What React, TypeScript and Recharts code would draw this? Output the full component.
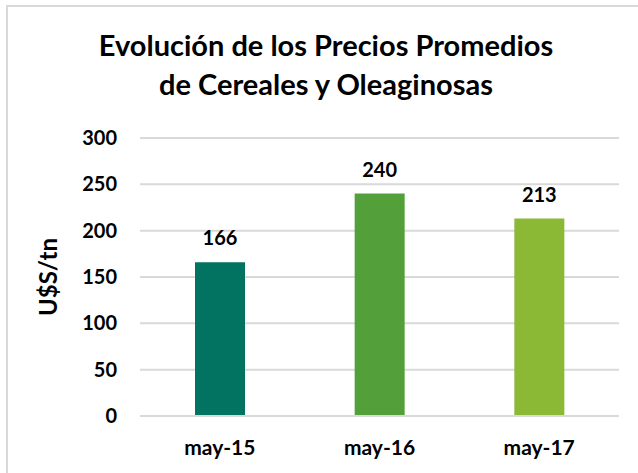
import React from 'react';
import { BarChart, Bar, XAxis, YAxis, CartesianGrid, Cell, LabelList } from 'recharts';

const months = ['may-15', 'may-16', 'may-17'];
const prices = [166, 240, 213];
const barColors = ['#037361', '#53a03b', '#8bb835'];
const yTicks = [0, 50, 100, 150, 200, 250, 300];

const data = months.map((m, i) => ({ month: m, price: prices[i] }));

const font = 'Lato, "Open Sans", sans-serif';

const App: React.FC = () => {
  return (
    <div style={{ position: 'absolute', left: 0, top: 0, width: 638, height: 473, overflow: 'hidden', background: '#fff', fontFamily: font }}>
      <div style={{ position: 'absolute', left: 6, top: 5, width: 640, height: 480, borderLeft: '2px solid #d9d9d9', borderTop: '2px solid #d9d9d9' }} />
      <div
        style={{
          position: 'absolute',
          left: 0,
          top: 25,
          width: 652,
          textAlign: 'center',
          fontSize: 29,
          fontWeight: 700,
          lineHeight: '39px',
          color: '#000',
        }}
      >
        Evolución de los Precios Promedios
        <br />
        de Cereales y Oleaginosas
      </div>
      <BarChart width={638} height={473} data={data} margin={{ top: 138, right: 19, bottom: 27, left: 0 }}>
        <CartesianGrid vertical={false} stroke="#d9d9d9" strokeWidth={2} />
        <XAxis
          dataKey="month"
          height={30}
          axisLine={{ stroke: '#d9d9d9', strokeWidth: 2 }}
          tickLine={false}
          tickSize={0}
          tickMargin={24}
          tick={{ fill: '#000', fontSize: 21, fontWeight: 700, fontFamily: font }}
        />
        <YAxis
          width={140}
          domain={[0, 300]}
          ticks={yTicks}
          axisLine={false}
          tickLine={false}
          tickSize={0}
          tickMargin={23}
          tick={{ fill: '#000', fontSize: 20, fontWeight: 700, fontFamily: font }}
          label={{
            value: 'U$S/tn',
            angle: -90,
            position: 'insideLeft',
            offset: 48,
            style: { fill: '#000', fontSize: 24, fontWeight: 700, fontFamily: font, textAnchor: 'middle' },
          }}
        />
        <Bar dataKey="price" barSize={50} isAnimationActive={false}>
          {data.map((d, i) => (
            <Cell key={d.month} fill={barColors[i]} />
          ))}
          <LabelList
            dataKey="price"
            position="top"
            offset={17}
            style={{ fill: '#000', fontSize: 20, fontWeight: 700, fontFamily: font }}
          />
        </Bar>
      </BarChart>
    </div>
  );
};

export default App;
